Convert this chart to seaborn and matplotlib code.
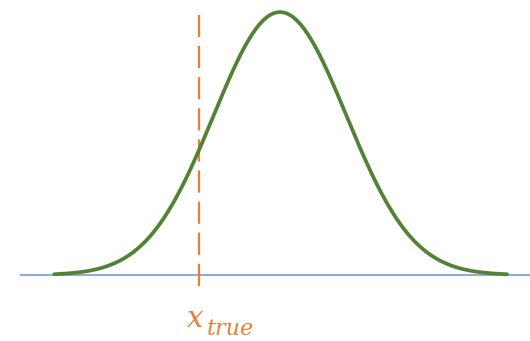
import numpy as np
import pandas as pd
import matplotlib
matplotlib.use("Agg")
import matplotlib.pyplot as plt
import seaborn as sns

# Normal density parameters (standardised units) and the true value marker
mu = 0.0
sigma = 1.0
x_start, x_end = -3.4, 3.42
x_true = -1.22
axis_start = -3.92
label_main = "x"
label_sub = "true"

sns.set_theme(style="white")

xs = np.linspace(x_start, x_end, 400)
density = np.exp(-0.5 * ((xs - mu) / sigma) ** 2)
df = pd.DataFrame({"x": xs, "density": density})

fig = plt.figure(figsize=(5.30, 3.41), dpi=100)
ax = fig.add_axes([0, 0, 1, 1])
ax.set_xlim(-4.217, 3.765)
ax.set_ylim(-0.251, 1.046)
ax.axis("off")

# horizontal axis line
ax.plot([axis_start, 3.765], [0, 0], color="#8FAADC", lw=1.5, solid_capstyle="butt", zorder=1)

# density curve
sns.lineplot(data=df, x="x", y="density", ax=ax, color="#548235", lw=2.7, zorder=3)

# dashed marker at the true value
ax.plot([x_true, x_true], [-0.04, 1.0], color="#ED7D31", lw=1.6,
        dashes=(10, 4), zorder=2)

# label: italic x with a subscript
orange = "#ED7D31"
ax.annotate(label_main, xy=(x_true, 0), xytext=(-12, -52), textcoords="offset pixels",
            color=orange, fontsize=21, family="DejaVu Serif", style="italic",
            ha="left", va="baseline")
ax.annotate(label_sub, xy=(x_true, 0), xytext=(8, -60), textcoords="offset pixels",
            color=orange, fontsize=16, family="DejaVu Serif", style="italic",
            ha="left", va="baseline")

fig.savefig("out.png", dpi=100)
